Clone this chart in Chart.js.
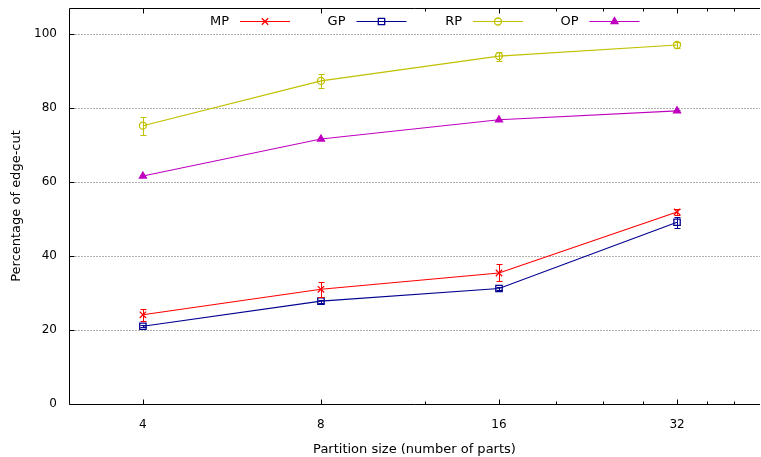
<!DOCTYPE html>
<html><head><meta charset="utf-8">
<script src="https://cdn.jsdelivr.net/npm/chart.js@4/dist/chart.umd.min.js"></script>
<style>html,body{margin:0;padding:0;background:#fff}#wrap{width:761px;height:457px}</style>
</head><body><div id="wrap"><canvas id="c" width="761" height="457"></canvas></div>
<script>
const partitions = [4, 8, 16, 32];
const mpValues = [24.1, 31.0, 35.4, 51.9];
const mpErrors = [1.6, 2.0, 2.3, 0.8];
const gpValues = [21.0, 27.8, 31.2, 49.1];
const gpErrors = [0.3, 0.4, 0.4, 1.5];
const rpValues = [75.2, 87.3, 94.0, 97.0];
const rpErrors = [2.4, 1.9, 1.2, 0.7];
const opValues = [61.6, 71.6, 76.8, 79.2];
const opErrors = [0.3, 0.3, 0.3, 0.3];
const seriesNames = ['MP', 'GP', 'RP', 'OP'];
const xMajorTicks = [4, 8, 16, 32];
const xMinorTicks = [12, 20, 24, 28, 36, 40];
const yTicks = [0, 20, 40, 60, 80, 100];

const FONT = 'DejaVu Sans';
const toPts = vals => partitions.map((p, i) => ({x: p, y: vals[i]}));

function ds(label, vals, errs, color, style, radius, fill) {
  return {
    label, data: toPts(vals), errors: errs,
    borderColor: color, backgroundColor: color, borderWidth: 1.1,
    pointStyle: style, pointRadius: radius, pointHoverRadius: radius,
    pointBorderColor: color, pointBorderWidth: 1.3,
    pointBackgroundColor: fill ? color : 'rgba(0,0,0,0)',
    tension: 0, fill: false
  };
}

const datasets = [
  ds(seriesNames[0], mpValues, mpErrors, '#ff0000', 'crossRot', 4.5, false),
  ds(seriesNames[1], gpValues, gpErrors, '#000090', 'rect', 4.5, false),
  ds(seriesNames[2], rpValues, rpErrors, '#c0c000', 'circle', 3.5, false),
  ds(seriesNames[3], opValues, opErrors, '#c000c0', 'triangle', 4, true)
];

const zeroPad = s => { s.paddingTop = 0; s.paddingBottom = 0; s.paddingLeft = 0; s.paddingRight = 0; };

const framePlugin = {
  id: 'frame',
  beforeDatasetsDraw(chart) {
    const {ctx, chartArea: a, scales: {x, y}} = chart;
    ctx.save();
    ctx.strokeStyle = '#b0b0b0';
    ctx.lineWidth = 1;
    ctx.setLineDash([2, 1]);
    yTicks.forEach(v => {
      if (v === 0) return;
      const py = Math.round(y.getPixelForValue(v)) + 0.5;
      ctx.beginPath(); ctx.moveTo(a.left, py); ctx.lineTo(a.right, py); ctx.stroke();
    });
    ctx.setLineDash([]);
    ctx.strokeStyle = '#000';
    const L = Math.round(a.left) + 0.5, B = Math.round(a.bottom) + 0.5, T = Math.round(a.top) + 0.5;
    ctx.beginPath();
    ctx.moveTo(L, T); ctx.lineTo(L, B); ctx.lineTo(a.right, B);
    ctx.moveTo(L, T); ctx.lineTo(a.right, T);
    ctx.stroke();
    const tick = (v, len) => {
      const px = Math.round(x.getPixelForValue(v)) + 0.5;
      ctx.beginPath();
      ctx.moveTo(px, B); ctx.lineTo(px, B - len);
      ctx.moveTo(px, T); ctx.lineTo(px, T + len);
      ctx.stroke();
    };
    xMajorTicks.forEach(v => tick(v, 5));
    xMinorTicks.forEach(v => tick(v, 3));
    yTicks.forEach(v => {
      const py = Math.round(y.getPixelForValue(v)) + 0.5;
      ctx.beginPath(); ctx.moveTo(L, py); ctx.lineTo(L + 5, py); ctx.stroke();
    });
    ctx.restore();
  },
  afterDatasetsDraw(chart) {
    const {ctx, scales: {y}} = chart;
    ctx.save();
    ctx.lineWidth = 1;
    chart.data.datasets.forEach((d, i) => {
      const meta = chart.getDatasetMeta(i);
      ctx.strokeStyle = d.borderColor;
      meta.data.forEach((pt, j) => {
        const v = d.data[j].y, e = d.errors[j];
        const px = Math.round(pt.x) + 0.5;
        const y1 = Math.round(y.getPixelForValue(v + e)) + 0.5;
        const y2 = Math.round(y.getPixelForValue(v - e)) + 0.5;
        ctx.beginPath();
        ctx.moveTo(px, y1); ctx.lineTo(px, y2);
        ctx.moveTo(px - 3, y1); ctx.lineTo(px + 3, y1);
        ctx.moveTo(px - 3, y2); ctx.lineTo(px + 3, y2);
        ctx.stroke();
      });
    });
    ctx.restore();
  },
  afterDraw(chart) {
    const {ctx} = chart;
    ctx.save();
    ctx.font = '13px "' + FONT + '"';
    ctx.textAlign = 'right';
    ctx.textBaseline = 'middle';
    const ly = 21.5;
    chart.data.datasets.forEach((d, i) => {
      const tr = 229 + i * 116.5;
      ctx.fillStyle = '#000';
      ctx.fillText(d.label, tr, ly + 0.5);
      const s0 = tr + 11, s1 = tr + 61;
      ctx.strokeStyle = d.borderColor;
      ctx.lineWidth = 1.1;
      ctx.beginPath(); ctx.moveTo(s0, ly); ctx.lineTo(s1, ly); ctx.stroke();
      ctx.fillStyle = d.pointBackgroundColor;
      ctx.lineWidth = 1.3;
      Chart.helpers.drawPoint(ctx, {pointStyle: d.pointStyle, radius: d.pointRadius, borderWidth: 1.3, rotation: 0}, (s0 + s1) / 2, ly);
    });
    ctx.restore();
  }
};

new Chart(document.getElementById('c'), {
  type: 'line',
  data: {datasets},
  plugins: [framePlugin],
  options: {
    responsive: false, animation: false, devicePixelRatio: 1,
    layout: {autoPadding: false, padding: {left: 0, right: 1, top: 8, bottom: 0}},
    plugins: {legend: {display: false}, tooltip: {enabled: false}},
    scales: {
      x: {
        type: 'logarithmic', min: 3, max: 44.2, position: 'bottom',
        afterBuildTicks: s => { s.ticks = xMajorTicks.map(v => ({value: v})); },
        afterFit: s => { s.height = 53; zeroPad(s); },
        grid: {display: false, drawTicks: false}, border: {display: false},
        ticks: {autoSkip: false, maxRotation: 0, padding: 14, color: '#000',
          font: {family: FONT, size: 12}, callback: v => String(v)},
        title: {display: true, text: 'Partition size (number of parts)', color: '#000',
          font: {family: FONT, size: 13}, padding: {top: 0, bottom: 0}}
      },
      y: {
        type: 'linear', min: 0, max: 107,
        afterBuildTicks: s => { s.ticks = yTicks.map(v => ({value: v})); },
        afterFit: s => { s.width = 69; zeroPad(s); },
        grid: {display: false, drawTicks: false}, border: {display: false},
        ticks: {padding: 12, color: '#000', font: {family: FONT, size: 12}},
        title: {display: true, text: 'Percentage of edge-cut', color: '#000',
          font: {family: FONT, size: 13}, padding: {top: 9, bottom: 0}}
      }
    }
  }
});
</script></body></html>
